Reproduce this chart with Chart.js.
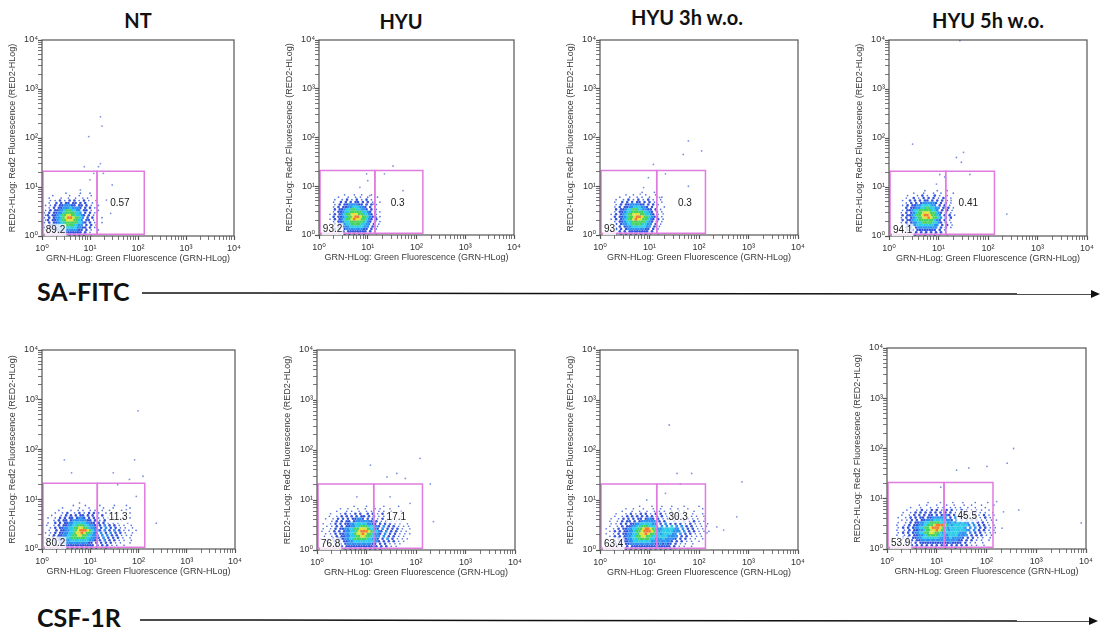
<!DOCTYPE html>
<html>
<head>
<meta charset="utf-8">
<title>SA-FITC / CSF-1R flow plots</title>
<script src="https://cdn.jsdelivr.net/npm/chart.js@4.4.0/dist/chart.umd.min.js"></script>
<style>
    body { margin: 0; width: 1100px; height: 634px; position: relative; overflow: hidden; background: #fff; }
    canvas { position: absolute; }
    .col-title { position: absolute; font: bold 20px Lato, sans-serif; line-height: 1; color: #111; white-space: nowrap; transform: translateX(-50%); }
    .row-label { position: absolute; font: bold 25px Lato, sans-serif; line-height: 1; color: #111; white-space: nowrap; }
    svg { position: absolute; left: 0; top: 0; }
</style>
</head>
<body>
<svg width="1100" height="634">
    <line x1="142" y1="293" x2="1092" y2="294" stroke="#111" stroke-width="1.5"/>
    <polygon points="1100,294 1091,290 1091,298" fill="#111"/>
    <line x1="140" y1="620" x2="1090" y2="621" stroke="#111" stroke-width="1.5"/>
    <polygon points="1098,621 1089,617 1089,625" fill="#111"/>
</svg>
<script>
// ---- data ----
const conditions = ['NT', 'HYU', 'HYU 3h w.o.', 'HYU 5h w.o.'];
const markers = ['SA-FITC', 'CSF-1R'];
const decadeTicks = [1, 10, 100, 1000, 10000];
const tickLabels = ['10⁰', '10¹', '10²', '10³', '10⁴'];
const xTitle = 'GRN-HLog: Green Fluorescence (GRN-HLog)';
const yTitle = 'RED2-HLog: Red2 Fluorescence (RED2-HLog)';

// gates (same for every panel): x edges, y edges
const gateX = [1.05, 14, 135];
const gateY = [1.08, 21];

// gate percentages, SA-FITC row then CSF-1R row
const leftGatePct = ['89.2', '93.2', '93', '94.1', '80.2', '76.8', '63.4', '53.9'];
const rightGatePct = ['0.57', '0.3', '0.3', '0.41', '11.3', '17.1', '30.3', '45.5'];
const leftLabelAt = [1.2, 1.32];
const rightLabelAt = [[42, 4.6], [41, 4.5], [52, 4.5], [40, 4.7], [38, 4.4], [40, 4.5], [38, 4.6], [41, 4.5]];

// density maps, 0.05 decade cells, top row first
// ' ' empty  '.' single events  1 blue .. 6 orange (highest density)
const saNT = [
    "         .     .   .      ",
    "    .      .   .    .     ",
    "  .    .  .  .  . .   .   ",
    "   . . 1 . 1 1 . 1 .  .   ",
    "  .  1 1 11 11 1 1  .     ",
    " . . 1 1122211 11 1 .  .  ",
    "  . 1 1122232221 1 1 .    ",
    " . 1 11223443322 11 .  .  ",
    ". 1 112234444332 1 1 .    ",
    " .1 11234455443321 1 .    ",
    ". 1 1223456654432 1 1 . . ",
    " .1 1123445554432 11 .    ",
    ". 1 11233444443321 1 .  . ",
    " . 11223344443322 1 1 .   ",
    ". 1 11223333332211 1 .    ",
    " . 1 112222222211 1 .  .  ",
    "  . 1 1111111111 1 .  .   ",
    " .  1 1 11 1 1 1 1  .     "
];
const saHYU = [
    "      .   .  .   .    ",
    "   .   .  . .  .   .  ",
    "  .  . 1 . 1 . 1 .    ",
    " .  1 1 1 11 1 1 .  . ",
    "  . 1 11222211 1 1 .  ",
    " . 1 1122333221 1 .   ",
    "  1 112334433221 1 .  ",
    " . 11233444443321 1 . ",
    ". 1 12344555443321 .  ",
    " 1 1123445665443211 . ",
    ". 1 12344565544321 1  ",
    " . 11233444444321 1 . ",
    ". 1 1223344443322 1 . ",
    " . 1 12233333322 1 .  ",
    "  1 1 1222222211 1 .  ",
    " . 1 1 11111111 1 .   ",
    "  . 1 1 1 1 1 1 .  .  "
];
const saHYU3 = [
    "             .    .     ",
    "       .  .    .   .    ",
    "    .   .  . .  .  . .  ",
    "   .  . 1 . 1 . 1 .  .  ",
    "  .  1 1 1 11 1 1 .  .  ",
    "   . 1 11222211 1 1 .   ",
    "  . 1 1122333221 1 .  . ",
    "   1 1123344332211 1 .  ",
    "  . 11233444443321 1 .  ",
    " . 1 12344555443321 .   ",
    "  1 1123445665443211 .  ",
    " . 1 12344565544321 1 . ",
    "  . 11233444444321 1 .  ",
    " . 1 1223344443322 1 .  ",
    "  . 1 12233333322 1 .   ",
    "   1 1 1222222211 1 .   ",
    "  . 1 1 11111111 1 .    ",
    "   . 1 1 1 1 1 1 .  .   "
];
const saHYU5 = [
    "          .    .   .   ",
    "     .   .   .  .    . ",
    "   .   . 1 .  1 .  .   ",
    "  .  1 . 1 1 1 . 1  .  ",
    " .  1 1 1 11 1 1 1 .   ",
    "  . 1 1 1222221 1 1 .  ",
    " . 1 1122333322 1 1 .  ",
    "  1 112233443322 1 1 . ",
    " . 1123344444332 1 1 . ",
    ". 1 1234455544321 1 .  ",
    " 1 11234456654432 1 1 .",
    ". 1 1234455654432 1 1  ",
    " 1 11233444444321 1 .  ",
    ". 1 1223344443321 1 .  ",
    " . 1122333333322 1 1 . ",
    ". 1 1 122222222 1 1 .  ",
    " . 1 1 11111111 1 .    ",
    "  . 1 1 1 1 1 1 1 .    ",
    "   .  1 . 1 . 1 .  .   "
];
const csfNT = [
    "            .    .     .     .    .     ",
    "        .      .   .     .   .      .   ",
    "      .    .  . .  . .  .  .    .       ",
    "     .  . 1  . 1 . 1 1 .  . .  .    .   ",
    "   .   . 1 1 1 11 1 1 . 1  .  .  .      ",
    "  .  . 1 1 11 1221 1 1 . . . .   .  .   ",
    "    . 1 11 122222211 1 . 1 . .  .       ",
    "  .  1 1 1122333332211 1 1 . . .   .    ",
    " .  . 1 11223344433221 1 2 1 1 . .  .   ",
    "   . 1 1122334455443221 1 2 1 1 . .  .  ",
    "  .  1 11223345666543221 2 1 2 1 . .  . ",
    " . . 1 1122334556544321 2 1 2 1 1 .  .  ",
    "  . 1 11223344554433221 2 2 1 1 . . .   ",
    " .  1 112233444444332211 2 1 1 1 .  .   ",
    "  . 1 1122233333333221 1 2 1 1 . .  .   ",
    " . . 1 11222222222211 1 1 1 1 . .   .   ",
    "  .  1 1 111111111111 1 1 1 . .  .      ",
    "   .  1 1 1 1 1 1 1 1 1 . 1 .  .        "
];
const csfHYU = [
    "              .    .  .   .     .      ",
    "         .  .   .  .   . .   .        ",
    "       .   . .  .  . .  . .  .   .     ",
    "     .   . 1 . 1 1  1 1 . 1 .  .       ",
    "    .  . 1 1 1 1 11 1 1 . . . .  .     ",
    "   .  . 1 1 1 11221 1 1 . 1 . .  .     ",
    "     . 1 1 11 12222221 1 . 1 . . .     ",
    "  .  . 1 1 1122333332211 1 1 1 . .  .  ",
    "   . . 1 1 11223344433221 2 1 1 . . .  ",
    "  .  . 1 1122334455543321 2 1 1 1 .  . ",
    " .  . 1 1 1223345666543321 2 1 1 . .   ",
    "   . . 1 11223345565443221 2 1 1 . . . ",
    "  .  . 1 1122334455443322 2 1 1 . .    ",
    " .  . 1 11122334444433221 1 2 1 . . .  ",
    "   .  1 1 112233333333221 1 1 1 . .    ",
    "  .  . 1 1 1222222222211 1 1 . . .     ",
    "    .  1 1 1111111111111 1 1 . .       ",
    "   .  .  1 1 1 1 1 1 1 1 1 . .  .      "
];
const csfHYU3 = [
    "              .    .   .   .    .     .     ",
    "         .  .   .   .  .   .  .   .     .   ",
    "       .   .  .  .  . . .  .  . .   .       ",
    "     .   . 1 . 1 1 . 1 1 . 1 . . .  .   .   ",
    "    .  . 1 1 1 1 1 1 1 1 . . 1 . . . .  .   ",
    "   .  . 1 1 1 11 1221 1 . 1 . 1 . 1 . .  .  ",
    "  .  . 1 11 1 1222222 1 1 . 1 . 1 . 1 . .   ",
    "   . . 1 1 11223333322 1 2 1 1 1 . 1 . .  . ",
    "  .  . 1 1122334443332 2 2 3 2 2 1 1 . . .  ",
    " .  . 1 11223344566543223333322 2 1 1 . .   ",
    "  . 1 1 11223445666543233333222 2 1 1 . . . ",
    " .  . 1 1122334556544332333322 2 1 1 . .    ",
    "  . 1 1 1223344554433233332222 1 1 . . .    ",
    " .  . 1 1122334444433222322221 1 1 . .  .   ",
    "  . 1 1 11223333333221222221 1 1 . .  .     ",
    "   . 1 1 1122222222221121211 1 . .  .       ",
    "  .  1 1 1 1111111111111111 1 . .  .        ",
    "    .  1 1 1 1 1 1 1 1 1 1 1 . .  .         "
];
const csfHYU5 = [
    "              .    .    .   .    .    .    ",
    "          .  .   .   .  .   .  .   .    .  ",
    "       .   .   .  . .  . . .  .  .   .     ",
    "     .   . 1 . 1 1 . 1 1 . 1 . . . .  .    ",
    "    .  . 1 1 1 1 1 1 1 1 . . 1 . 1 . .  .  ",
    "   .  . 1 1 1 11 1 1221 1 . 1 . 1 . 1 . .  ",
    "  .  . 1 1 11 11222222 1 2 1 1 . 1 . 1 .   ",
    "   . . 1 1 1122233333221 2 1 2 1 1 . . . . ",
    "  .  . 1 1122334444333223232322 2 1 1 . .  ",
    " .  . 1 11223344566654323333332 2 1 1 . .  ",
    "  . 1 1 1223344566654323333332 2 2 1 1 . . ",
    " .  . 1 11223445565443233333322 2 1 1 . .  ",
    "  . 1 1 1223344554432333333222 2 1 1 . . . ",
    " .  . 1 1122334444332233332222 1 1 1 . .   ",
    "  . 1 1 112233333332222322221 1 1 . .  .   ",
    "   . 1 1 1122222222212222211 1 1 . .  .    ",
    "  .  1 1 1 11111111111121111 1 . .  .      ",
    "    .  1 1 1 1 1 1 1 1 1 1 1 1 . .  .      ",
    "      .  1 . 1 . 1 . 1 . 1 . . .   .       "
];
const densityMaps = [saNT, saHYU, saHYU3, saHYU5, csfNT, csfHYU, csfHYU3, csfHYU5];
// lower-left corner of each map, in decades
const mapOrigin = [[0, 0], [0.2, 0], [0.15, 0], [0.2, 0], [0, 0], [0, 0], [0.05, 0], [0.1, 0]];

// isolated events outside the maps [GRN, RED2]
const saNTOut = [[16.5, 270], [17.8, 175], [9.4, 107], [16.5, 30], [15, 26], [7.6, 26], [29, 11], [6.3, 8.7], [22, 5.4], [27, 2.9], [10, 14], [12, 19], [19, 19]];
const saHYUOut = [[33, 26], [22, 18], [53, 8.1], [10, 13], [6.9, 9.5], [11, 6.4], [13, 4.3], [15, 2.3], [9.5, 18]];
const saHYU3Out = [[61, 85], [48, 45], [113, 53], [12, 28], [14, 20], [9.5, 15], [21, 18], [61, 10], [16, 5.9], [19, 2.7], [7.6, 9.4], [6.5, 6.9]];
const saHYU5Out = [[27, 9700], [3, 75], [23, 40], [32, 51], [29, 32], [10.6, 18], [13.4, 16], [9.1, 11.5], [43, 18], [240, 2.8], [18, 5.3], [17, 2.8]];
const csfNTOut = [[98, 600], [83, 62], [2.9, 62], [4.1, 34], [30, 34], [124, 29], [65, 25], [37, 19.6], [234, 3.3], [90, 11.4], [56, 6.2], [6, 8.4]];
const csfHYUOut = [[12, 50], [121, 68], [41, 34], [61, 27], [26, 29], [194, 21], [225, 3.7], [76, 8.6], [30, 11.6], [6.4, 11.6]];
const csfHYU3Out = [[25, 316], [36, 34], [42, 21], [71, 34], [740, 23], [315, 2.5], [580, 4.6], [230, 2.9], [145, 2.2], [21, 13.6], [8.8, 10]];
const csfHYU5Out = [[350, 100], [260, 51], [102, 44], [44, 41], [25, 37], [220, 5.5], [445, 6], [8000, 3.3], [205, 2.6], [160, 8.8], [12, 17]];
const outliers = [saNTOut, saHYUOut, saHYU3Out, saHYU5Out, csfNTOut, csfHYUOut, csfHYU3Out, csfHYU5Out];

// ---- layout / style ----
const panelBoxes = [
    [42, 40, 192, 196], [319, 40, 195, 195], [600, 40, 198, 195], [889, 40, 198, 196],
    [42, 350, 193, 199], [317, 350, 198, 200], [600, 350, 198, 200], [887, 348, 199, 201]
];
const titleSpots = [[138, 9.5], [401, 10.5], [687, 7], [988, 10]];
const rowLabelSpots = [[37, 279], [37, 605]];
const YW = 35, XH = 28, PT = 10, PR = 12;
const CELL = 0.05;
const densityLevels = ['.', '1', '2', '3', '4', '5', '6'];
const levelColors = ['#5676e2', '#3554dc', '#2e90f2', '#2acbe8', '#45d35e', '#dfe23c', '#f27a2c'];
const levelRadius = [0.85, 1.3, 1.8, 1.8, 1.8, 1.8, 1.8];
const GATE = '#e07ce0';
const FONT = '"Liberation Sans", Arial, "DejaVu Sans", sans-serif';

const allTicks = decadeTicks.flatMap(d => d === 10000 ? [d] : [1, 2, 3, 4, 5, 6, 7, 8, 9].map(k => k * d));

// odd rows sit half a cell to the right, so the map reads as speckle rather than stripes
function densityDatasets(rows, origin) {
    const buckets = densityLevels.map(() => []);
    rows.forEach((row, r) => {
        const fromBottom = rows.length - 1 - r;
        const ly = origin[1] + (fromBottom + 0.5) * CELL;
        const shift = (fromBottom % 2) * 0.5;
        for (let c = 0; c < row.length; c++) {
            const k = densityLevels.indexOf(row[c]);
            if (k < 0) continue;
            buckets[k].push({ x: Math.pow(10, origin[0] + (c + 0.5 + shift) * CELL), y: Math.pow(10, ly) });
        }
    });
    return buckets.map((data, k) => ({
        data,
        order: 10 - k,
        pointStyle: k < 2 ? 'circle' : 'rect',
        pointRadius: levelRadius[k],
        pointBackgroundColor: levelColors[k],
        pointBorderWidth: 0
    }));
}

function gateDataset(x0, x1) {
    return {
        data: [{ x: x0, y: gateY[0] }, { x: x1, y: gateY[0] }, { x: x1, y: gateY[1] }, { x: x0, y: gateY[1] }, { x: x0, y: gateY[0] }],
        showLine: true,
        borderColor: GATE,
        borderWidth: 1.5,
        pointRadius: 0,
        order: 0
    };
}

function logAxis(title, horizontal) {
    return {
        type: 'logarithmic',
        min: 1,
        max: 10000,
        afterBuildTicks: s => { s.ticks = allTicks.map(v => ({ value: v, major: decadeTicks.includes(v) })); },
        afterFit: s => { if (horizontal) s.height = XH; else s.width = YW; },
        ticks: {
            autoSkip: false,
            maxRotation: 0,
            padding: horizontal ? 3 : 0,
            color: '#333',
            font: { family: FONT, size: 9 },
            callback: v => {
                const i = decadeTicks.indexOf(v);
                return i >= 0 ? tickLabels[i] : '';
            }
        },
        grid: {
            drawOnChartArea: false,
            drawTicks: true,
            tickLength: 4,
            tickColor: '#555',
            tickWidth: c => (c.tick && c.tick.major) ? 1.2 : 0.8
        },
        border: { display: false },
        title: { display: true, text: title, color: '#3a3a3a', padding: 0, font: { family: FONT, size: 9 } }
    };
}

function haloText(ctx, text, px, py, align) {
    const w = ctx.measureText(text).width;
    const x0 = align === 'left' ? px : px - w / 2;
    ctx.fillStyle = 'rgba(255,255,255,0.8)';
    ctx.fillRect(x0 - 1, py - 6, w + 2, 12);
    ctx.fillStyle = '#222';
    ctx.textAlign = align;
    ctx.fillText(text, px, py);
}

// frame + gate percentages
const panelDecor = {
    id: 'panelDecor',
    afterDraw(chart, args, opts) {
        const { ctx, chartArea: a, scales: { x, y } } = chart;
        ctx.save();
        ctx.strokeStyle = '#555';
        ctx.lineWidth = 1.2;
        ctx.strokeRect(a.left, a.top, a.width, a.height);

        ctx.font = '10px ' + FONT;
        ctx.textBaseline = 'middle';
        haloText(ctx, opts.left, x.getPixelForValue(leftLabelAt[0]), y.getPixelForValue(leftLabelAt[1]), 'left');
        haloText(ctx, opts.right, x.getPixelForValue(opts.rightAt[0]), y.getPixelForValue(opts.rightAt[1]), 'center');
        ctx.restore();
    }
};

function buildPanel(i) {
    const [l, t, w, h] = panelBoxes[i];
    const canvas = document.createElement('canvas');
    canvas.width = YW + w + PR;
    canvas.height = PT + h + XH;
    canvas.style.left = (l - YW) + 'px';
    canvas.style.top = (t - PT) + 'px';
    canvas.style.width = canvas.width + 'px';
    canvas.style.height = canvas.height + 'px';
    document.body.appendChild(canvas);

    const datasets = densityDatasets(densityMaps[i], mapOrigin[i]);
    datasets.push({
        data: outliers[i].map(([gx, ry]) => ({ x: gx, y: ry })),
        order: 11,
        pointStyle: 'circle',
        pointRadius: 0.9,
        pointBackgroundColor: 'rgba(95,120,215,0.8)',
        pointBorderWidth: 0
    });
    datasets.push(gateDataset(gateX[0], gateX[1]));
    datasets.push(gateDataset(gateX[1], gateX[2]));

    new Chart(canvas.getContext('2d'), {
        type: 'scatter',
        data: { datasets },
        options: {
            responsive: false,
            animation: false,
            events: [],
            layout: { padding: { top: PT, right: PR, left: 0, bottom: 0 } },
            plugins: {
                legend: { display: false },
                tooltip: { enabled: false },
                panelDecor: { left: leftGatePct[i], right: rightGatePct[i], rightAt: rightLabelAt[i] }
            },
            scales: {
                x: logAxis(xTitle, true),
                y: logAxis(yTitle, false)
            }
        },
        plugins: [panelDecor]
    });
}

conditions.forEach((name, i) => {
    const d = document.createElement('div');
    d.className = 'col-title';
    d.textContent = name;
    d.style.left = titleSpots[i][0] + 'px';
    d.style.top = titleSpots[i][1] + 'px';
    document.body.appendChild(d);
});
markers.forEach((name, i) => {
    const d = document.createElement('div');
    d.className = 'row-label';
    d.textContent = name;
    d.style.left = rowLabelSpots[i][0] + 'px';
    d.style.top = rowLabelSpots[i][1] + 'px';
    document.body.appendChild(d);
});

for (let i = 0; i < panelBoxes.length; i++) buildPanel(i);
</script>
</body>
</html>
